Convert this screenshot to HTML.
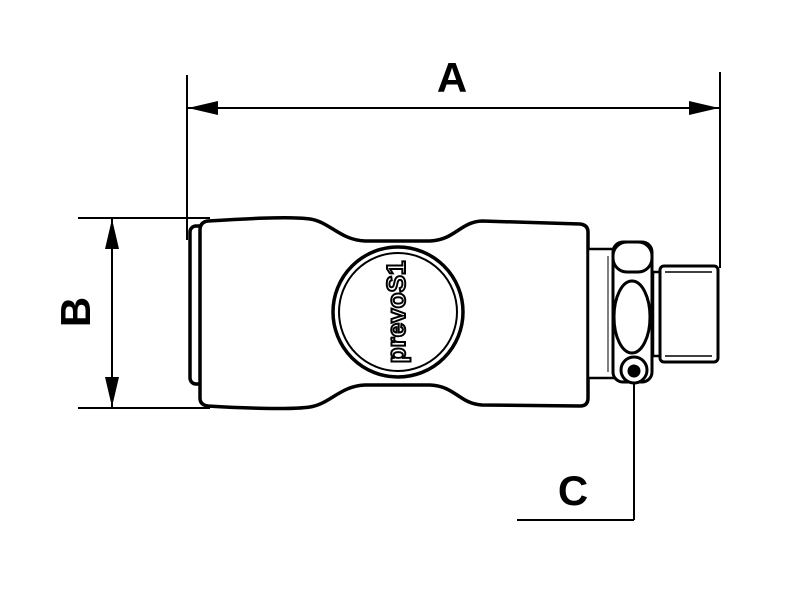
<!DOCTYPE html>
<html><head><style>body{margin:0;background:#fff}svg{display:block}</style></head><body>
<svg width="800" height="600" viewBox="0 0 800 600" xmlns="http://www.w3.org/2000/svg">
<defs>
<marker id="ar2" viewBox="0 0 30 14" refX="30" refY="7" markerWidth="30" markerHeight="14" markerUnits="userSpaceOnUse" orient="auto-start-reverse"><path d="M0,0 L30,7 L0,14 z" fill="#000"/></marker>
</defs>
<g stroke="#000" fill="none" stroke-width="2">
<line x1="187" y1="75" x2="187" y2="240"/>
<line x1="720" y1="72" x2="720" y2="268"/>
<line x1="188" y1="108" x2="719" y2="108" marker-start="url(#ar2)" marker-end="url(#ar2)"/>
<line x1="78" y1="218" x2="210" y2="218"/>
<line x1="78" y1="408" x2="210" y2="408"/>
<line x1="112" y1="219" x2="112" y2="407" marker-start="url(#ar2)" marker-end="url(#ar2)"/>
<line x1="634" y1="380" x2="634" y2="520"/>
<line x1="517" y1="520" x2="634" y2="520"/>
</g>
<g stroke="#000" fill="#fff" stroke-width="3.5" stroke-linejoin="round">
<rect x="190" y="226" width="16" height="158" rx="6"/>
<path d="M208,221 C240,219 290,216 310,219 C330,222 340,240 365,241 L430,241 C455,240 460,222 482,221 L580,224 Q588,225 588,232 L588,398 Q588,406 580,406 L482,405 C460,404 455,386 430,385 L365,385 C340,386 330,404 310,407 C290,410 240,408 208,406 Q200,405 200,398 L200,230 Q200,222 208,221 Z"/>
<rect x="588" y="249" width="28" height="129" stroke-width="2.5"/>
<line x1="608" y1="256" x2="608" y2="372" stroke-width="1"/>
<rect x="613" y="242" width="39" height="140" rx="10" stroke-width="3"/>
<rect x="613" y="242" width="39" height="30" rx="14" stroke-width="3"/>
<ellipse cx="632" cy="317" rx="18" ry="36" stroke-width="3"/>
<rect x="653" y="272" width="9" height="84" stroke-width="2.5"/>
<rect x="660" y="266" width="58" height="96" rx="4" stroke-width="3"/>
<line x1="665" y1="272" x2="712" y2="272" stroke-width="1.5"/>
<line x1="665" y1="356" x2="712" y2="356" stroke-width="1.5"/>
<circle cx="634" cy="370" r="13" stroke-width="3"/>
<circle cx="398" cy="312" r="65" stroke-width="3.5"/>
<circle cx="398" cy="312" r="59" stroke-width="2"/>
</g>
<circle cx="634" cy="371" r="6.5" fill="#000"/>
<text transform="translate(398,312) rotate(-90)" font-family="Liberation Sans, sans-serif" font-weight="bold" font-size="26" text-anchor="middle" dominant-baseline="middle" fill="#fff" stroke="#000" stroke-width="2">prevoS1</text>
<g font-family="Liberation Sans, sans-serif" font-weight="bold" font-size="42" fill="#000" text-anchor="middle">
<text x="452" y="92">A</text>
<text x="573" y="505">C</text>
<text transform="translate(90,312) rotate(-90)">B</text>
</g>
</svg>
</body></html>
